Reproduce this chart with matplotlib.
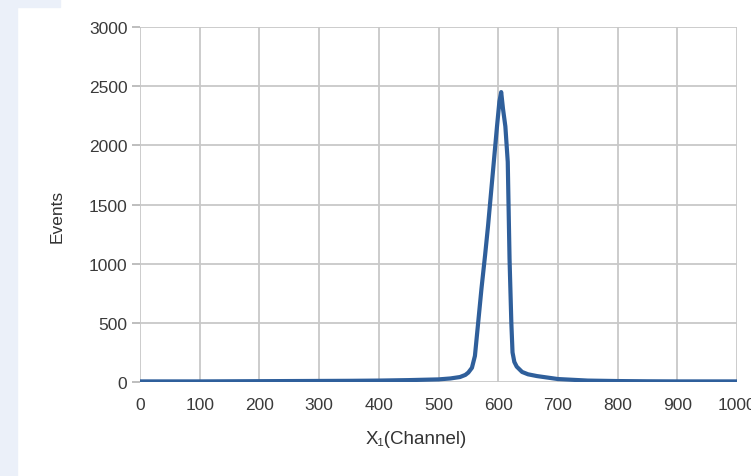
import matplotlib.pyplot as plt
from matplotlib.patches import Rectangle

# channel vs events
channel = [0, 50, 100, 150, 200, 250, 300, 350, 400, 450, 500, 520, 536, 545,
           550, 556, 561, 567, 572, 578, 583, 588, 593, 598, 602, 605, 608,
           612, 616, 619, 622, 624, 627, 631, 640, 650, 665, 700, 750,
           800, 850, 900, 950, 1000]
events = [5, 5, 5, 6, 7, 8, 9, 10, 12, 16, 22, 30, 42, 60,
          80, 120, 220, 530, 790, 1070, 1320, 1600, 1880, 2160, 2370, 2450, 2310,
          2160, 1860, 1040, 500, 250, 170, 130, 85, 65, 50, 25, 12,
          8, 6, 5, 5, 5]

plt.rcParams['font.family'] = ['Liberation Sans', 'DejaVu Sans']

fig = plt.figure(figsize=(7.51, 4.77), dpi=100)
fig.patch.set_facecolor('white')
bg = '#ebf0f9'
fig.patches.append(Rectangle((0, 0), 17 / 751, 1, transform=fig.transFigure,
                             color=bg, zorder=-10))
fig.patches.append(Rectangle((0, 1 - 8 / 477), 60 / 751, 8 / 477,
                             transform=fig.transFigure, color=bg, zorder=-10))

ax = fig.add_axes([140 / 751, 94 / 477, 597 / 751, 355 / 477])
ax.plot(channel, events, color='#2f5f9b', lw=3.0, solid_joinstyle='round')
ax.set_xlim(0, 1000)
ax.set_ylim(0, 3000)
ax.set_xticks(range(0, 1001, 100))
ax.set_yticks(range(0, 3001, 500))
ax.grid(True, color='#c8c8c8', lw=1.3)
ax.set_axisbelow(True)
for s in ax.spines.values():
    s.set_visible(False)
ax.tick_params(axis='y', length=6, width=1.2, color='#b3b3b3', labelsize=12.5,
               labelcolor='#3a3a3a', pad=3)
ax.tick_params(axis='x', length=0, labelsize=12.5, labelcolor='#3a3a3a', pad=11)
ax.set_ylabel('Events', fontsize=12.5, color='#333333')
ax.set_xlabel('X\u2081(Channel)', fontsize=13.5, color='#333333')
ax.yaxis.set_label_coords(-0.127, 0.47)
ax.xaxis.set_label_coords(0.462, -0.135)

plt.savefig('out.png', dpi=100)
